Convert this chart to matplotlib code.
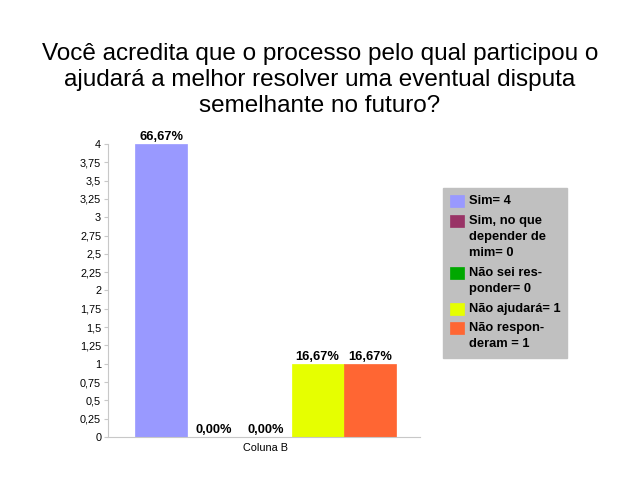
import matplotlib
matplotlib.use("Agg")
import matplotlib.pyplot as plt

plt.rcParams["font.family"] = ["Liberation Sans", "DejaVu Sans"]

categories = ["Sim= 4", "Sim, no que\ndepender de\nmim= 0", "Não sei res-\nponder= 0",
              "Não ajudará= 1", "Não respon-\nderam = 1"]
values = [4, 0, 0, 1, 1]
pct_labels = ["66,67%", "0,00%", "0,00%", "16,67%", "16,67%"]
colors = ["#9999ff", "#993366", "#00a800", "#e6ff00", "#ff6633"]
yticks = [0, 0.25, 0.5, 0.75, 1, 1.25, 1.5, 1.75, 2, 2.25, 2.5, 2.75, 3, 3.25, 3.5, 3.75, 4]
title = "Você acredita que o processo pelo qual participou o\najudará a melhor resolver uma eventual disputa\nsemelhante no futuro?"

fig = plt.figure(figsize=(6.4, 4.8), dpi=100)
ax = fig.add_axes([0.169, 0.0896, 0.487, 0.6104])

for i, (v, c, lab) in enumerate(zip(values, colors, categories)):
    ax.bar(i, v, width=1.0, color=c, edgecolor=c, linewidth=0.5, label=lab)
    ax.text(i, v + 0.01, pct_labels[i], ha="center", va="bottom", fontsize=9.3, fontweight="bold")

ax.set_ylim(0, 4)
ax.set_xlim(-1.02, 4.96)
ax.set_yticks(yticks)
ax.set_yticklabels([("%g" % t).replace(".", ",") for t in yticks], fontsize=7.8)
ax.set_xticks([2])
ax.set_xticklabels(["Coluna B"], fontsize=7.8)
ax.tick_params(axis="x", length=0, pad=4)
ax.tick_params(axis="y", length=3, color="#c8c8c8", pad=2)
for s in ["top", "right"]:
    ax.spines[s].set_visible(False)
for s in ["left", "bottom"]:
    ax.spines[s].set_color("#c8c8c8")

fig.suptitle(title, fontsize=17.5, y=0.911, linespacing=1.25)

leg = fig.legend(loc="upper left", bbox_to_anchor=(0.692, 0.608), frameon=True,
                 fancybox=False, prop={"size": 9.3, "weight": "bold"},
                 handlelength=1.05, handleheight=1.05, handletextpad=0.4,
                 labelspacing=0.6, borderpad=0.55, borderaxespad=0)
leg.get_frame().set_facecolor("#c0c0c0")
leg.get_frame().set_edgecolor("#c0c0c0")
leg.get_frame().set_alpha(1)
for t in leg.get_texts():
    t.set_linespacing(1.45)
for col in leg._legend_handle_box.get_children():
    for item in col.get_children():
        item.align = "top"

fig.savefig("out.png", dpi=100)
